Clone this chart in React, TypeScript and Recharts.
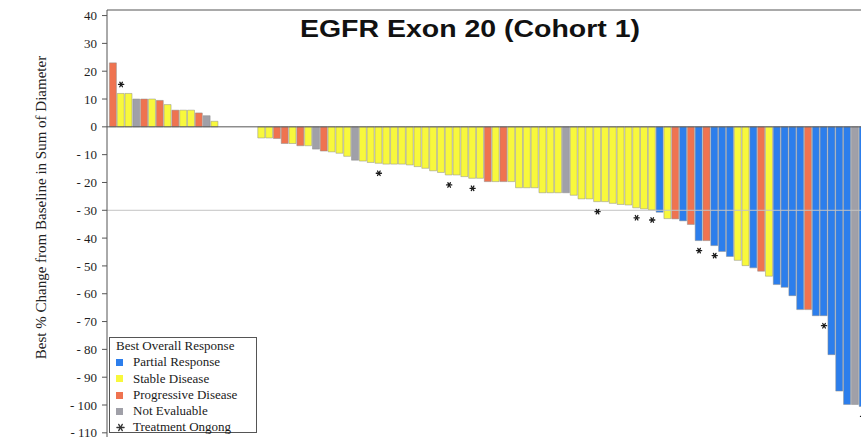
import React, { useLayoutEffect } from 'react';
import { ComposedChart, Bar, Cell, Scatter, XAxis, YAxis, ReferenceLine } from 'recharts';

// Best overall response per patient, ordered by best % change (waterfall order)
const responses: string[] = [
  'PD', 'SD', 'SD', 'NE', 'PD', 'SD', 'PD', 'SD', 'PD', 'SD', 'SD', 'PD', 'NE', 'SD',
  'SD', 'SD', 'SD', 'SD', 'SD',
  'SD', 'SD', 'PD', 'PD', 'SD', 'PD', 'SD', 'NE', 'PD', 'SD',
  'SD', 'SD', 'NE', 'SD', 'SD', 'SD', 'SD', 'SD', 'SD', 'SD',
  'SD', 'SD', 'SD', 'SD', 'SD', 'SD', 'SD', 'SD', 'SD', 'PD',
  'SD', 'PD', 'SD', 'SD', 'SD', 'SD', 'SD', 'SD', 'SD', 'NE',
  'SD', 'SD', 'SD', 'SD', 'SD', 'SD', 'SD', 'SD', 'SD', 'SD',
  'SD', 'PR', 'SD', 'PD', 'PR', 'PD', 'PR', 'PD', 'PR', 'PR',
  'PR', 'SD', 'SD', 'PR', 'PD', 'SD', 'PR', 'PR', 'PR', 'PR',
  'PD', 'PR', 'PR', 'PR', 'PR', 'PR', 'NE', 'PR',
];

// Best % change from baseline in sum of diameters
const bestChange: number[] = [
  23, 12, 12, 10, 10, 10, 9.5, 8, 6, 6, 6, 5, 4, 2,
  0, 0, 0, 0, 0,
  -4, -4, -4.2, -6, -6, -6.8, -6.8, -8, -8.7, -9,
  -9.5, -10.6, -12, -12.3, -12.8, -13.1, -13.4, -13.4, -13.4, -13.7,
  -14.3, -14.9, -15.8, -16.4, -17.3, -17.3, -17.9, -18.5, -18.5, -19.7,
  -19.7, -19.7, -19.7, -21.9, -21.9, -21.9, -23.7, -23.7, -23.7, -23.7,
  -24.6, -25.9, -25.9, -26.9, -26.9, -27.5, -27.9, -28.1, -29.1, -29.5,
  -29.9, -30.7, -33, -33.1, -33.8, -35.1, -40.9, -40.9, -42.7, -44.8,
  -46.6, -48, -49.9, -50.7, -51.9, -53.7, -56.7, -57.7, -60.7, -65.7,
  -65.7, -67.9, -67.9, -81.9, -95, -99.8, -99.8, -100.5,
];

// Positions (0-based) of patients with treatment ongoing
const ongoingIdx: number[] = [1, 34, 43, 46, 62, 67, 69, 75, 77, 91, 96];

const yTicks: number[] = [40, 30, 20, 10, 0, -10, -20, -30, -40, -50, -60, -70, -80, -90, -100, -110];
const Y_MIN = -111.5;
const Y_MAX = 42;

const responseOrder: string[] = ['PR', 'SD', 'PD', 'NE'];
const responseLabels: Record<string, string> = {
  PR: 'Partial Response',
  SD: 'Stable Disease',
  PD: 'Progressive Disease',
  NE: 'Not Evaluable',
};
const responseColors: Record<string, string> = {
  PR: '#2c7eec',
  SD: '#f8f83c',
  PD: '#ef7350',
  NE: '#a0a0a8',
};

const rows = bestChange.map((change, i) => ({
  id: `P${i + 1}`,
  change,
  response: responses[i],
  ongoing: ongoingIdx.includes(i),
}));

const SERIF = '"Liberation Serif", "DejaVu Serif", serif';

const Asterisk = ({ x, y, r, color }: { x: number; y: number; r: number; color: string }) => (
  <g stroke={color} strokeWidth={1.3} strokeLinecap="round">
    <line x1={x - r} y1={y} x2={x + r} y2={y} />
    <line x1={x - r * 0.5} y1={y - r * 0.87} x2={x + r * 0.5} y2={y + r * 0.87} />
    <line x1={x + r * 0.5} y1={y - r * 0.87} x2={x - r * 0.5} y2={y + r * 0.87} />
  </g>
);

const OngoingMark = (props: any) => {
  const { cx, cy, payload } = props;
  if (!payload || !payload.ongoing || cx == null || cy == null) return <g />;
  const y = payload.change < 0 ? cy + 10 : cy - 9;
  return <Asterisk x={cx} y={y} r={2.6} color="#1a1a1a" />;
};

const YTitle = (props: any) => {
  const vb = props.viewBox || { x: 0, y: 0, width: 0, height: 0 };
  const cy = vb.y + vb.height / 2 - 16;
  return (
    <text
      transform={`translate(32.5, ${cy}) rotate(-90)`}
      textAnchor="middle"
      dominantBaseline="central"
      fontFamily={SERIF}
      fontSize={15}
      fill="#222"
    >
      Best % Change from Baseline in Sum of Diameter
    </text>
  );
};

const formatTick = (v: number) => (v < 0 ? `- ${Math.abs(v)}` : `${v}`);

export default function App() {
  // keep the page itself from scrolling; the chart is sized to the window
  useLayoutEffect(() => {
    document.documentElement.style.overflow = 'hidden';
    document.body.style.overflow = 'hidden';
  }, []);

  return (
    <div
      style={{
        position: 'fixed',
        left: 8,
        top: 8,
        width: 853,
        height: 434,
        overflow: 'hidden',
        background: '#fff',
      }}
    >
      {/* the plot area runs a few px past the right edge, so the last bar is cut off */}
      <ComposedChart
        width={853}
        height={434}
        data={rows}
        margin={{ top: 2, right: -6, bottom: 5, left: 0 }}
      >
        <XAxis
          dataKey="id"
          type="category"
          height={0}
          tick={false}
          tickLine={false}
          axisLine={{ stroke: '#555' }}
          padding={{ left: 2.4, right: 0 }}
          interval={0}
        />
        <YAxis
          width={99}
          domain={[Y_MIN, Y_MAX]}
          ticks={yTicks}
          interval={0}
          allowDataOverflow
          axisLine={{ stroke: '#555' }}
          tickLine={{ stroke: '#555' }}
          tickSize={5}
          tickMargin={5}
          tickFormatter={formatTick}
          tick={{ fontFamily: SERIF, fontSize: 13, fill: '#1e1e1e' }}
          label={<YTitle />}
        />
        <Bar dataKey="change" barSize={7} isAnimationActive={false} stroke="#8c8c8c" strokeWidth={0.5}>
          {rows.map((r, i) => (
            <Cell key={`c-${i}`} fill={responseColors[r.response]} />
          ))}
        </Bar>
        <ReferenceLine y={-30} stroke="#c4c4c4" strokeWidth={1} />
        <ReferenceLine y={0} stroke="#555" strokeWidth={1} />
        <ReferenceLine y={Y_MAX} stroke="#555" strokeWidth={1} />
        <Scatter dataKey="change" shape={OngoingMark} isAnimationActive={false} />
      </ComposedChart>

      <svg
        width={853}
        height={40}
        style={{ position: 'absolute', left: 0, top: 0, pointerEvents: 'none' }}
      >
        <text
          x={462}
          y={29.3}
          textAnchor="middle"
          textLength={340}
          lengthAdjust="spacingAndGlyphs"
          fontFamily='"Liberation Sans", Arial, sans-serif'
          fontWeight={700}
          fontSize={24.5}
          fill="#111"
        >
          EGFR Exon 20 (Cohort 1)
        </text>
      </svg>

      <div
        style={{
          position: 'absolute',
          left: 101,
          top: 329,
          width: 148,
          height: 96,
          boxSizing: 'border-box',
          border: '1px solid #555',
          background: '#fff',
          fontFamily: SERIF,
          fontSize: 13,
          lineHeight: '16.3px',
          color: '#1a1a1a',
          paddingTop: 0,
          paddingLeft: 6,
          whiteSpace: 'nowrap',
        }}
      >
        <div>Best Overall Response</div>
        {responseOrder.map((k) => (
          <div key={k} style={{ display: 'flex', alignItems: 'center' }}>
            <span
              style={{
                display: 'inline-block',
                width: 7,
                height: 7,
                background: responseColors[k],
                marginRight: 10,
              }}
            />
            <span>{responseLabels[k]}</span>
          </div>
        ))}
        <div style={{ display: 'flex', alignItems: 'center' }}>
          <svg width={9} height={9} style={{ marginRight: 8 }}>
            <Asterisk x={4.5} y={4.5} r={3.6} color="#333" />
          </svg>
          <span>Treatment Ongong</span>
        </div>
      </div>
    </div>
  );
}
